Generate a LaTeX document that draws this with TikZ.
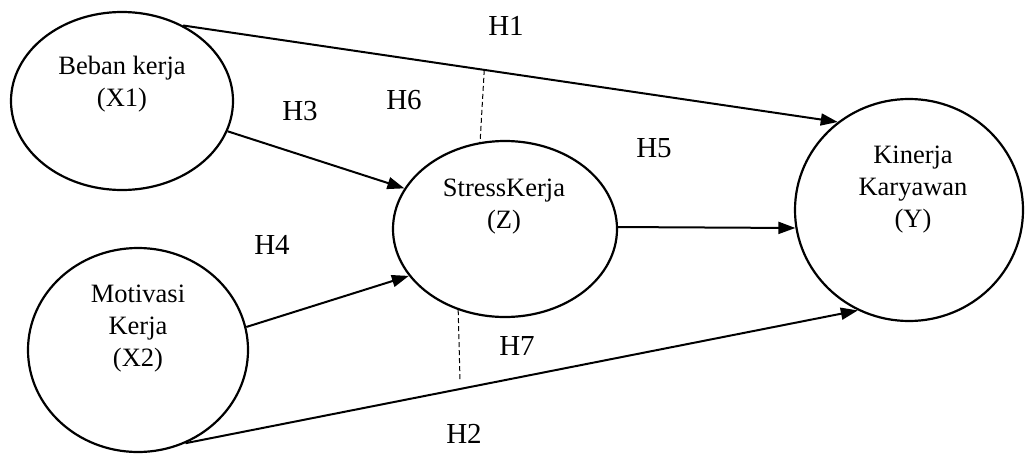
\documentclass[tikz,border=0pt]{standalone}
\usepackage{fontspec}
\setmainfont{Liberation Serif}
\usetikzlibrary{shapes.geometric,arrows.meta,calc}
\tikzset{
  var/.style={ellipse, draw, line width=2.2pt, inner sep=0pt},
  txt/.style={align=center, inner sep=0pt, font=\fontsize{26.5}{32}\selectfont},
  hlab/.style={inner sep=0pt, font=\fontsize{29}{34}\selectfont},
  arr/.style={line width=2pt, -{Triangle[length=17pt,width=12pt]}},
  dsh/.style={line width=1pt, dash pattern=on 5pt off 3pt}
}
\begin{document}
\begin{tikzpicture}[x=1pt,y=-1pt]
\useasboundingbox (0,0) rectangle (1025,455);
\node[var, minimum width=222pt, minimum height=178pt] (x1) at (122,101) {};
\node[var, minimum width=220pt, minimum height=204pt] (x2) at (138,350) {};
\node[var, minimum width=224pt, minimum height=176pt] (z) at (505,229) {};
\node[var, minimum width=228pt, minimum height=222pt] (y) at (909,210) {};
\node[txt] (tx1) at (122,84) {Beban kerja\\(X1)};
\node[txt] (tx2) at (138,329) {Motivasi\\Kerja\\(X2)};
\node[txt] (tz) at (504,207) {StressKerja\\(Z)};
\node[txt] (ty) at (913,190) {Kinerja\\Karyawan\\(Y)};
\draw[arr] (x1.51) -- (y.129);
\draw[arr] (x1.-16) -- (z.158);
\draw[arr] (x2.12.6) -- (z.206);
\draw[arr] (z.1) -- (y.189);
\draw[arr] (x2.-63) -- (y.243);
\coordinate (m1) at ($(x1.51)!0.46!(y.129)$);
\coordinate (m2) at (460,380);
\draw[dsh] (m1) -- (z.106);
\draw[dsh] (z.240) -- (m2);
\node[hlab] (h1) at (506,26) {H1};
\node[hlab] (h3) at (300,111) {H3};
\node[hlab] (h6) at (404,100) {H6};
\node[hlab] (h5) at (654,148) {H5};
\node[hlab] (h4) at (272,245) {H4};
\node[hlab] (h7) at (517,346) {H7};
\node[hlab] (h2) at (464,434) {H2};
\end{tikzpicture}
\end{document}
